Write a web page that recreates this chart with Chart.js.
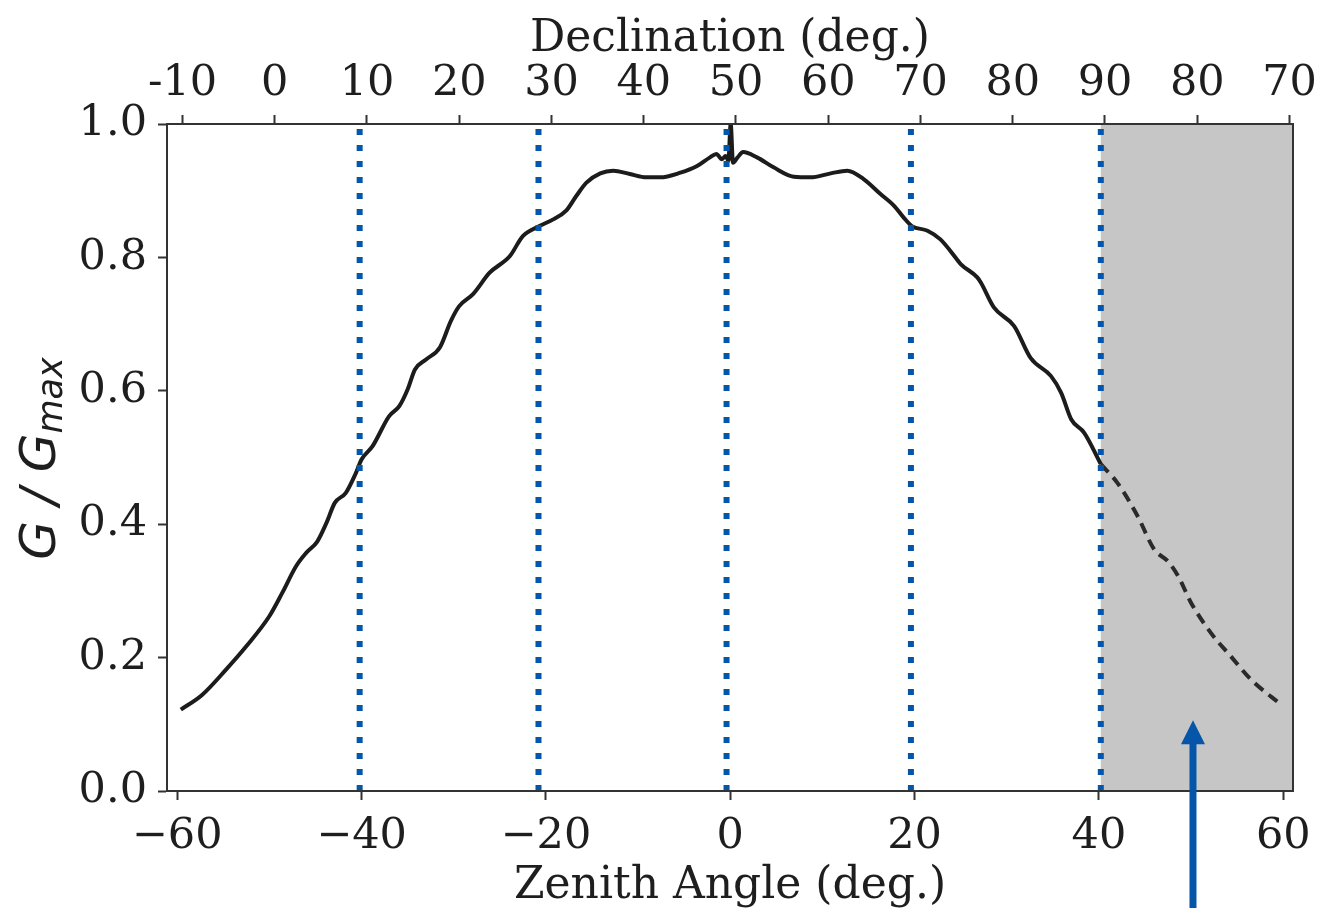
<!DOCTYPE html>
<html>
<head>
<meta charset="utf-8">
<script src="https://cdn.jsdelivr.net/npm/chart.js@4.4.1/dist/chart.umd.min.js"></script>
<style>
  html, body { margin: 0; padding: 0; background: #fff; }
</style>
</head>
<body>
<canvas id="myChart" width="1324" height="908"></canvas>
<script>
// measured response, solid part (inside the field of view)
const ZENITH = [-59.6, -57.3, -54.7, -52.5, -50.0, -48.6, -47.1, -46.0, -44.8, -43.8,
  -42.9, -41.7, -40.6, -40.0, -38.8, -37.0, -35.9, -35.0, -34.2, -33.0,
  -31.5, -30.3, -29.4, -27.9, -26.1, -23.9, -22.5, -20.7, -19.2, -17.8,
  -16.7, -15.6, -14.1, -12.7, -10.9, -9.1, -7.6, -5.4, -3.6, -2.2,
  -1.5, -0.9, -0.5, -0.2, 0.05, 0.3, 0.8, 1.4, 2.9, 4.7,
  6.9, 8.7, 10.9, 12.7, 14.5, 16.3, 17.8, 18.8, 19.7, 21.4,
  22.8, 24.6, 25.0, 26.8, 27.2, 28.6, 30.8, 32.6, 34.8, 35.9,
  37.0, 38.4, 40.2];
const GAIN = [0.122, 0.144, 0.182, 0.217, 0.262, 0.297, 0.337, 0.357, 0.374, 0.402,
  0.432, 0.447, 0.477, 0.497, 0.517, 0.562, 0.577, 0.602, 0.632, 0.647,
  0.665, 0.705, 0.727, 0.745, 0.777, 0.802, 0.832, 0.847, 0.857, 0.870,
  0.892, 0.912, 0.926, 0.930, 0.925, 0.920, 0.920, 0.927, 0.937, 0.950,
  0.955, 0.947, 0.952, 0.945, 1.0, 0.942, 0.950, 0.958, 0.950, 0.935,
  0.921, 0.920, 0.926, 0.930, 0.917, 0.895, 0.877, 0.860, 0.847, 0.840,
  0.827, 0.797, 0.790, 0.770, 0.762, 0.725, 0.697, 0.649, 0.622, 0.597,
  0.557, 0.537, 0.490];

// extrapolated part (shaded region)
const ZENITH_EXT = [40.2, 42.0, 44.2, 46.0, 47.5, 48.6, 50.0, 52.2, 54.3, 56.5, 59.8];
const GAIN_EXT = [0.490, 0.462, 0.412, 0.362, 0.344, 0.322, 0.282, 0.236, 0.202, 0.167, 0.129];

// source transits (dotted lines)
const SOURCE_ZENITH = [-40.2, -20.8, -0.4, 19.6, 40.2];
const SHADE_FROM = 40.2;
const ARROW_AT = 50.2;
const ARROW_TIP = 0.106;

const X_TICKS = [-60, -40, -20, 0, 20, 40, 60];
const TOP_TICKS = [-60, -50, -40, -30, -20, -10, 0, 10, 20, 30, 40, 50, 60];
const DEC_LABELS = ['-10', '0', '10', '20', '30', '40', '50', '60', '70', '80', '90', '80', '70'];
const Y_TICKS = [0, 0.2, 0.4, 0.6, 0.8, 1.0];

const BLUE = '#0556a8';
const INK = '#1e1e1e';

Chart.defaults.font.family = '"DejaVu Serif", serif';
Chart.defaults.font.size = 43;
Chart.defaults.color = INK;

const pts = (xs, ys) => xs.map((x, i) => ({ x: x, y: ys[i] }));

const sourceSets = SOURCE_ZENITH.map(z => ({
  data: [{ x: z, y: 0 }, { x: z, y: 1 }],
  borderColor: BLUE,
  borderWidth: 6,
  borderDash: [6, 10],
  borderCapStyle: 'butt',
  pointRadius: 0,
  tension: 0
}));

const shade = {
  id: 'shade',
  beforeDatasetsDraw(chart) {
    const { ctx, chartArea, scales } = chart;
    const x0 = scales.x.getPixelForValue(SHADE_FROM);
    ctx.save();
    ctx.fillStyle = '#c6c6c6';
    ctx.fillRect(x0, chartArea.top, chartArea.right - x0, chartArea.bottom - chartArea.top);
    ctx.restore();
  }
};

const extras = {
  id: 'extras',
  afterDraw(chart) {
    const { ctx, chartArea, scales } = chart;
    // arrow
    const ax = scales.x.getPixelForValue(ARROW_AT);
    const tip = scales.y.getPixelForValue(ARROW_TIP);
    ctx.save();
    ctx.strokeStyle = BLUE;
    ctx.fillStyle = BLUE;
    ctx.lineWidth = 7;
    ctx.beginPath();
    ctx.moveTo(ax, chart.height);
    ctx.lineTo(ax, tip + 20);
    ctx.stroke();
    ctx.beginPath();
    ctx.moveTo(ax, tip);
    ctx.lineTo(ax - 12, tip + 24);
    ctx.lineTo(ax + 12, tip + 24);
    ctx.closePath();
    ctx.fill();
    ctx.restore();

    // y title: G / G_max
    ctx.save();
    ctx.translate(55, (chartArea.top + chartArea.bottom) / 2 + 1);
    ctx.rotate(-Math.PI / 2);
    ctx.fillStyle = INK;
    ctx.textBaseline = 'alphabetic';
    ctx.font = 'italic 50px "DejaVu Sans"';
    const main = 'G / G';
    const w1 = ctx.measureText(main).width;
    ctx.font = 'italic 35px "DejaVu Sans"';
    const w2 = ctx.measureText('max').width;
    const start = -(w1 + w2) / 2;
    ctx.font = 'italic 50px "DejaVu Sans"';
    ctx.fillText(main, start, 0);
    ctx.font = 'italic 35px "DejaVu Sans"';
    ctx.fillText('max', start + w1, 7);
    ctx.restore();
  }
};

const tickGrid = { drawOnChartArea: false, drawTicks: true, tickLength: 9, tickWidth: 2, color: '#333' };
const frame = { display: true, color: '#333', width: 2, z: 1 };

new Chart(document.getElementById('myChart').getContext('2d'), {
  type: 'line',
  data: {
    datasets: [
      ...sourceSets,
      {
        data: pts(ZENITH, GAIN),
        borderColor: '#1c1c1c',
        borderWidth: 4,
        pointRadius: 0,
        cubicInterpolationMode: 'monotone'
      },
      {
        data: pts(ZENITH_EXT, GAIN_EXT),
        borderColor: '#2a2a2a',
        borderWidth: 4,
        borderDash: [11, 7],
        pointRadius: 0,
        cubicInterpolationMode: 'monotone'
      }
    ]
  },
  options: {
    responsive: false,
    animation: false,
    devicePixelRatio: 1,
    layout: { padding: 0 },
    plugins: { legend: { display: false }, tooltip: { enabled: false } },
    scales: {
      x: {
        type: 'linear', position: 'bottom', min: -61.1, max: 61.05,
        afterBuildTicks: s => { s.ticks = X_TICKS.map(v => ({ value: v })); },
        afterFit: s => { s.height = 117; },
        ticks: {
          autoSkip: false, maxRotation: 0, padding: 11,
          callback: v => (v < 0 ? '\u2212' + Math.abs(v) : String(v))
        },
        grid: tickGrid,
        border: frame,
        title: { display: true, text: 'Zenith Angle (deg.)', font: { size: 44 }, padding: { top: 0, bottom: -5 } }
      },
      x2: {
        type: 'linear', position: 'top', min: -61.68, max: 60.38,
        afterBuildTicks: s => { s.ticks = TOP_TICKS.map(v => ({ value: v })); },
        afterFit: s => { s.height = 124; },
        ticks: {
          autoSkip: false, maxRotation: 0, padding: 5,
          callback: v => DEC_LABELS[TOP_TICKS.indexOf(v)]
        },
        grid: tickGrid,
        border: frame,
        title: { display: true, text: 'Declination (deg.)', font: { size: 44 }, padding: { top: 13, bottom: 0 } }
      },
      y: {
        type: 'linear', position: 'left', min: 0, max: 1,
        afterBuildTicks: s => { s.ticks = Y_TICKS.map(v => ({ value: v })); },
        afterFit: s => { s.width = 167; },
        ticks: { padding: 11, callback: v => v.toFixed(1) },
        grid: tickGrid,
        border: frame
      },
      y2: {
        type: 'linear', position: 'right', min: 0, max: 1,
        afterFit: s => { s.width = 31; },
        ticks: { display: false },
        grid: { display: false, drawTicks: false },
        border: frame
      }
    }
  },
  plugins: [shade, extras]
});
</script>
</body>
</html>
